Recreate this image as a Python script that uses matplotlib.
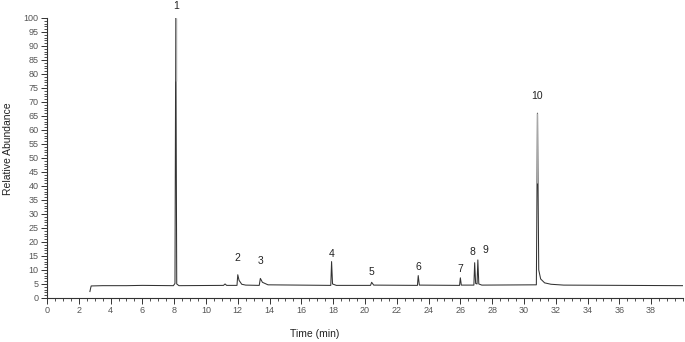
import matplotlib.pyplot as plt
from matplotlib.ticker import MultipleLocator

plt.rcParams['font.family'] = ['Liberation Sans', 'DejaVu Sans']

# chromatogram trace (time in min, relative abundance)
trace_time = [2.70, 2.74, 2.78, 3.5, 5.0, 6.0, 7.95, 8.05, 8.10, 8.16, 8.30,
              11.1, 11.2, 11.3, 11.95, 12.0, 12.08, 12.25, 12.5,
              13.35, 13.42, 13.55, 13.9, 17.85, 17.9, 17.96, 18.2,
              20.35, 20.42, 20.55, 23.3, 23.35, 23.42, 25.95, 26.0, 26.06,
              26.85, 26.9, 26.96, 27.05, 27.1, 27.16, 27.35,
              30.78, 30.85, 30.93, 31.05, 31.3, 31.7, 32.5, 40.0]
trace_abund = [2.3, 3.4, 4.3, 4.4, 4.4, 4.5, 4.4, 5.2, 100.0, 5.0, 4.4,
               4.5, 5.0, 4.5, 4.5, 8.3, 6.3, 4.9, 4.6,
               4.5, 7.0, 5.6, 4.7, 4.5, 13.0, 5.0, 4.5,
               4.5, 5.6, 4.6, 4.5, 8.0, 4.6, 4.5, 7.2, 4.6,
               4.6, 12.6, 5.2, 5.0, 13.6, 5.0, 4.6,
               4.7, 66.0, 10.0, 6.8, 5.4, 4.9, 4.6, 4.4]

# faint upper part of the two big peaks
tall_times = [8.10, 30.85]
tall_low = [77.5, 41.0]
tall_high = [100.0, 66.0]

label_names = ['1', '2', '3', '4', '5', '6', '7', '8', '9', '10']
label_times = [8.1, 12.0, 13.4, 17.9, 20.4, 23.35, 26.0, 26.75, 27.55, 30.85]
label_abund = [102.5, 12.5, 11.3, 14.0, 7.6, 9.4, 8.5, 14.8, 15.3, 70.5]

fig = plt.figure(figsize=(6.85, 3.42), dpi=100)
ax = fig.add_axes([0.0686, 0.1287, 0.9284, 0.8187])

ax.plot(trace_time, trace_abund, color='#333333', lw=0.75)
ax.vlines(tall_times, tall_low, tall_high, color='#a8a8a8', lw=1.0)

for name, t, a in zip(label_names, label_times, label_abund):
    ax.text(t, a, name, ha='center', va='bottom', fontsize=7.5, color='#222222')

ax.set_xlim(0, 40)
ax.set_ylim(0, 100)
ax.xaxis.set_major_locator(MultipleLocator(2))
ax.xaxis.set_minor_locator(MultipleLocator(0.5))
ax.yaxis.set_major_locator(MultipleLocator(5))
ax.yaxis.set_minor_locator(MultipleLocator(1))
ax.set_xticks(list(range(0, 40, 2)))

for side in ['top', 'right']:
    ax.spines[side].set_visible(False)
for side in ['left', 'bottom']:
    ax.spines[side].set_linewidth(0.8)
    ax.spines[side].set_color('#333333')

ax.tick_params(which='major', length=4, width=0.7, labelsize=6.5, pad=2,
               colors='#333333')
ax.tick_params(which='minor', length=2.5, width=0.6, colors='#333333')
ax.tick_params(axis='x', labelcolor='#555555')
ax.tick_params(axis='y', labelcolor='#555555')

fig.text(0.46, 0.01, 'Time (min)', fontsize=7.5, ha='center', va='bottom',
         color='#222222')
fig.text(0.012, 0.565, 'Relative Abundance', fontsize=7.5, rotation=90,
         ha='center', va='center', color='#222222')

fig.savefig('out.png', dpi=100)
